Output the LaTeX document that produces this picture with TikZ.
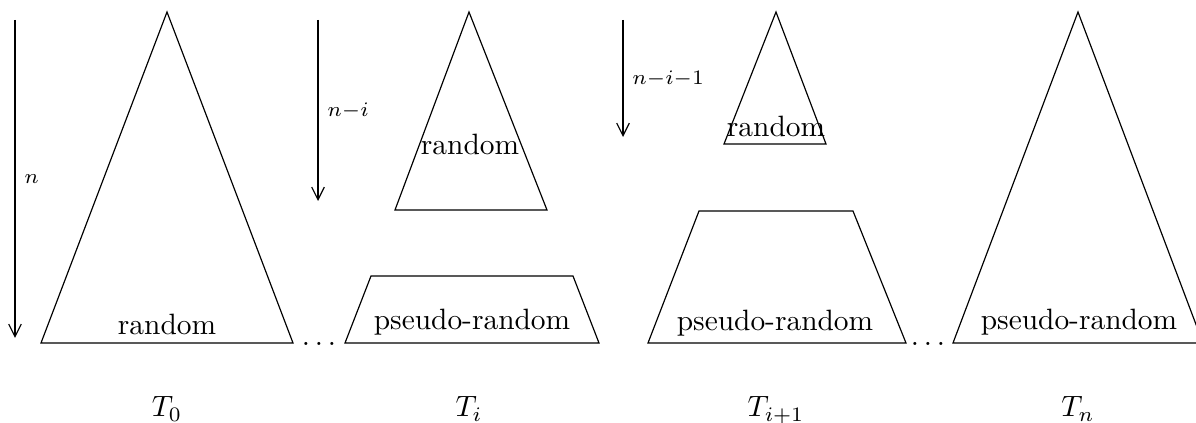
\documentclass[tikz,border=0pt]{standalone}
\usepackage{tikz}
\usetikzlibrary{arrows.meta}

\begin{document}
\begin{tikzpicture}[
    x=0.34pt, y=-0.34pt,
    tree/.style={draw, line join=miter},
    arr/.style={-{Straight Barb[length=1.5mm,width=1.5mm]}},
    depth/.style={font=\scriptsize, right, inner sep=3pt},
    part/.style={anchor=base, inner sep=0pt},
    tname/.style={anchor=base, inner sep=0pt}
  ]
    \useasboundingbox (0,0) rectangle (1196,423);
    % T_0
    \draw[tree] (167,12) -- (41,343) -- (293,343) -- cycle;
    \node[part] (r0) at (167,335) {random};
    \coordinate (a0) at (15,20);
    \coordinate (b0) at (15,338);
    \draw[arr] (a0) -- node[depth] (n0) {$n$} (b0);
    \node[part] (d1) at (319,346) {$\ldots$};
    % T_i
    \draw[tree] (469,12) -- (395,210) -- (547,210) -- cycle;
    \draw[tree] (371,276) -- (573,276) -- (599,343) -- (345,343) -- cycle;
    \node[part] (ri) at (470,155) {random};
    \node[part] (pi) at (472,330) {pseudo-random};
    \coordinate (ai) at (318,20);
    \coordinate (bi) at (318,201);
    \draw[arr] (ai) -- node[depth] (ni) {$n{-}i$} (bi);
    % T_{i+1}
    \draw[tree] (776,12) -- (724,144) -- (826,144) -- cycle;
    \draw[tree] (699,211) -- (853,211) -- (906,343) -- (648,343) -- cycle;
    \node[part] (rj) at (776,137) {random};
    \node[part] (pj) at (775,331) {pseudo-random};
    \coordinate (aj) at (623,20);
    \coordinate (bj) at (623,137);
    \draw[arr] (aj) -- node[depth] (nj) {$n{-}i{-}1$} (bj);
    \node[part] (d2) at (928,346) {$\ldots$};
    % T_n
    \draw[tree] (1078,12) -- (953,343) -- (1203,343) -- cycle;
    \node[part] (pn) at (1079,330) {pseudo-random};
    % labels
    \node[tname] (t0) at (167,417) {$T_0$};
    \node[tname] (ti) at (469,417) {$T_i$};
    \node[tname] (tj) at (776,417) {$T_{i+1}$};
    \node[tname] (tn) at (1078,417) {$T_n$};
\end{tikzpicture}
\end{document}
